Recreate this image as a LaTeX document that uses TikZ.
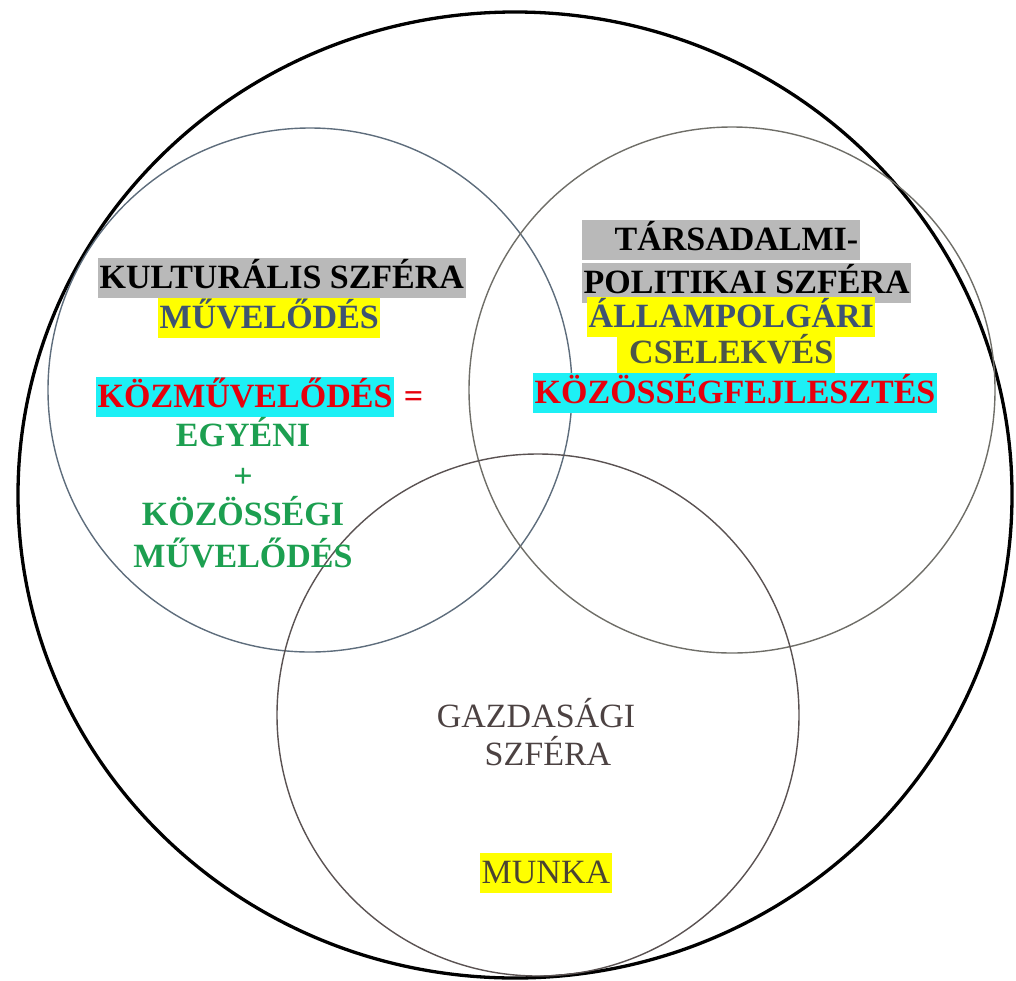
\documentclass[tikz,border=0pt]{standalone}
\usepackage{fontspec}
\setmainfont{Liberation Serif}
\usepackage{tikz}
\usetikzlibrary{positioning}
\definecolor{hlgrey}{HTML}{B9B9B9}
\definecolor{hlyellow}{HTML}{FFFF00}
\definecolor{hlcyan}{HTML}{1DF0F5}
\definecolor{slateblue}{HTML}{3E5372}
\definecolor{olivegrey}{HTML}{4B5648}
\definecolor{txtred}{HTML}{E6000C}
\definecolor{txtgreen}{HTML}{1C9F50}
\definecolor{brownish}{HTML}{4C4242}
\definecolor{munkatxt}{HTML}{4A4432}
\definecolor{ringleft}{HTML}{5E6D7C}
\definecolor{ringright}{HTML}{6F6E68}
\definecolor{ringbottom}{HTML}{5A5252}

\begin{document}
\begin{tikzpicture}[x=1pt,y=-1pt]
\tikzset{bigring/.style={draw=black, line width=3.3pt}}
\tikzset{ring/.style={line width=1.4pt}}
\tikzset{label/.style={inner xsep=1.5pt, inner ysep=0pt, text height=30pt, text depth=10pt, font=\bfseries\fontsize{34}{40}\selectfont}}
\tikzset{plain/.style={label, font=\fontsize{34}{40}\selectfont}}
\useasboundingbox (0,0) rectangle (1016,980);
% the whole and the three spheres
\draw[bigring] (515,495) ellipse [x radius=497pt, y radius=483pt];
\draw[ring, draw=ringleft] (310,390) circle [radius=262pt];
\draw[ring, draw=ringright] (732,390) circle [radius=263pt];
\draw[ring, draw=ringbottom] (538,715) circle [radius=261pt];
% cultural sphere
\node[label, fill=hlgrey, anchor=base west] (kultura) at (98,288) {KULTURÁLIS SZFÉRA};
\node[label, fill=hlyellow, text=slateblue, anchor=base west] (muvelodes) at (158,328) {MŰVELŐDÉS};
\node[label, fill=hlcyan, text=txtred, anchor=base west] (kozmuv) at (96,407) {KÖZMŰVELŐDÉS};
\node[label, text=txtred, anchor=base west, xshift=8pt] (egyenlo) at (kozmuv.base east) {=};
\node[label, text=txtgreen, anchor=base] (egyeni) at (243,446) {EGYÉNI};
\node[label, text=txtgreen, anchor=base] (plusz) at (243,487) {+};
\node[label, text=txtgreen, anchor=base] (kozossegi) at (243,525) {KÖZÖSSÉGI};
\node[label, text=txtgreen, anchor=base] (kozmuvel) at (243,567) {MŰVELŐDÉS};
% social-political sphere
\node[label, fill=hlgrey, text width=275pt, align=right, anchor=base east] (tarsad) at (860,250) {TÁRSADALMI-};
\node[label, fill=hlgrey, anchor=base west] (politikai) at (582,293) {POLITIKAI SZFÉRA};
\node[label, fill=hlyellow, text=slateblue, anchor=base west] (allampolg) at (587,327) {ÁLLAMPOLGÁRI};
\node[label, fill=hlyellow, text=olivegrey, text width=215pt, align=right, anchor=base east] (cselekves) at (835,363) {CSELEKVÉS};
\node[label, fill=hlcyan, text=txtred, anchor=base west] (fejlesztes) at (533,403) {KÖZÖSSÉGFEJLESZTÉS};
% economic sphere
\node[plain, text=brownish, anchor=base] (gazdasagi) at (536,727) {GAZDASÁGI};
\node[plain, text=brownish, anchor=base] (gszfera) at (548,765) {SZFÉRA};
\node[plain, fill=hlyellow, text=munkatxt, anchor=base west] (munka) at (480,883) {MUNKA};
\end{tikzpicture}
\end{document}
